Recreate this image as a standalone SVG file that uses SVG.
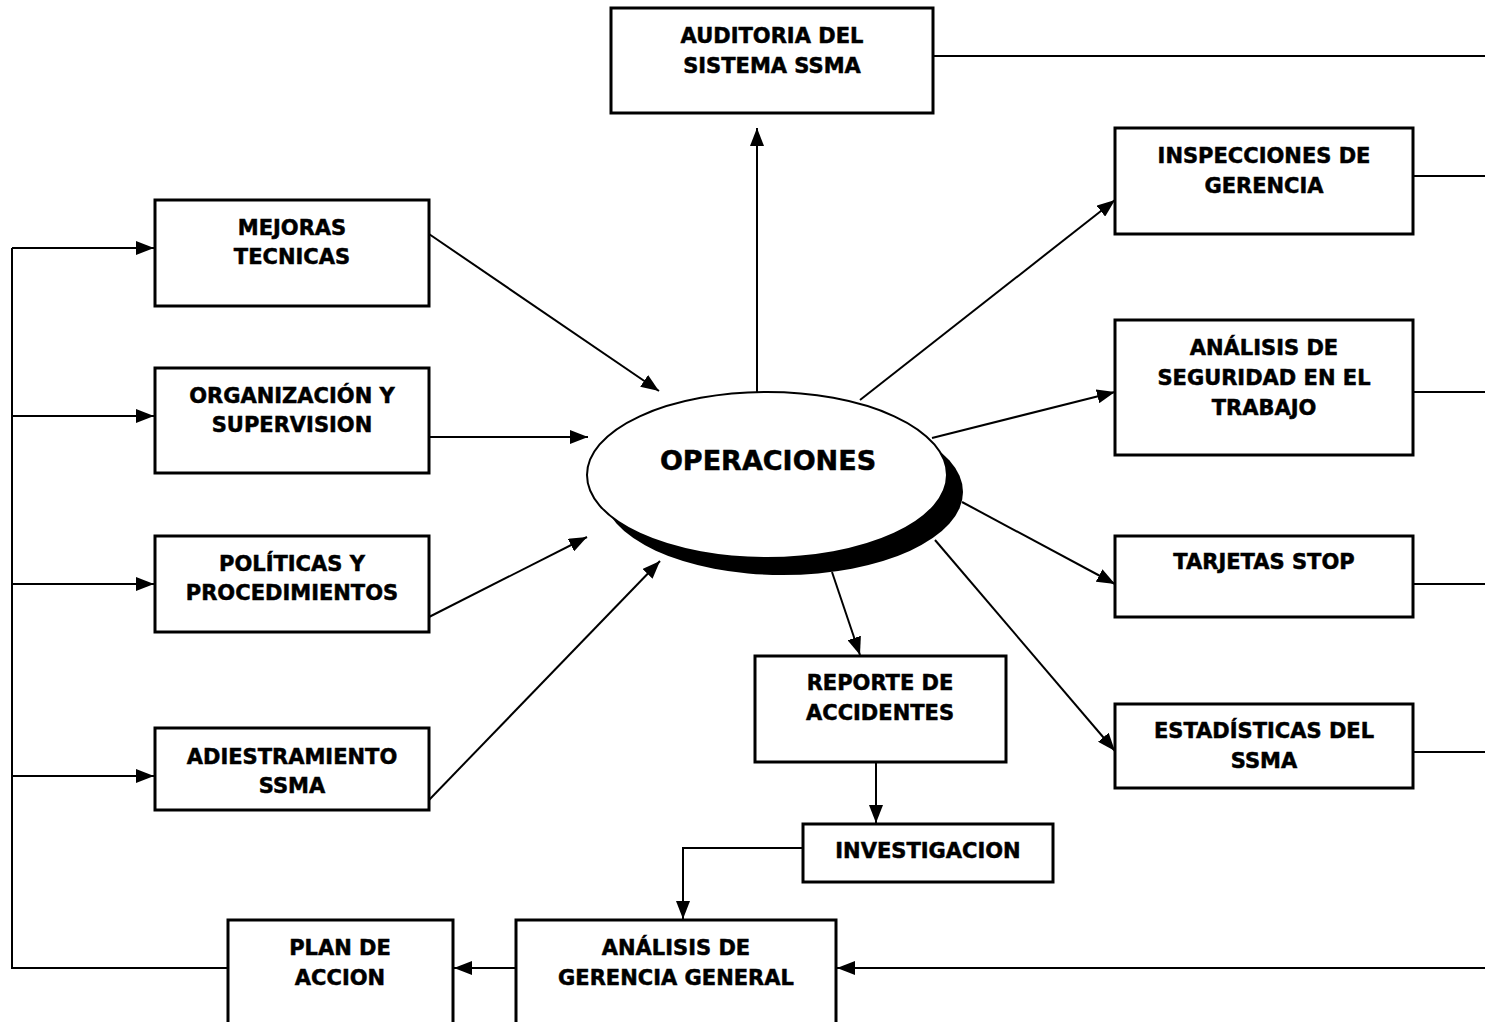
<svg xmlns="http://www.w3.org/2000/svg" width="1485" height="1022" viewBox="0 0 1485 1022">
<style>
.box{fill:#fff;stroke:#000;stroke-width:3}
.lbl{font-family:"DejaVu Sans","Liberation Sans",sans-serif;font-weight:bold;font-size:21px;text-anchor:middle;fill:#000;stroke:#000;stroke-width:0.5}
.big{font-size:27px}
.ln{fill:none;stroke:#000;stroke-width:2}
.ar{marker-end:url(#ah)}
</style>
<defs>
<marker id="ah" viewBox="0 0 18 14" refX="18" refY="7" markerWidth="18" markerHeight="14" markerUnits="userSpaceOnUse" orient="auto">
<path d="M0,0 L18,7 L0,14 z" fill="#000"/>
</marker>
</defs>
<rect width="1485" height="1022" fill="#fff"/>
<g id="connectors">
<line class="ln ar" x1="757" y1="392" x2="757" y2="128"/>
<line class="ln" x1="933" y1="56" x2="1485" y2="56"/>
<line class="ln" x1="1413" y1="176" x2="1485" y2="176"/>
<line class="ln" x1="1413" y1="392" x2="1485" y2="392"/>
<line class="ln" x1="1413" y1="584" x2="1485" y2="584"/>
<line class="ln" x1="1413" y1="752" x2="1485" y2="752"/>
<line class="ln ar" x1="1485" y1="968" x2="837" y2="968"/>
<line class="ln ar" x1="516" y1="968" x2="454" y2="968"/>
<polyline class="ln" points="228,968 12,968 12,248"/>
<line class="ln ar" x1="12" y1="248" x2="154" y2="248"/>
<line class="ln ar" x1="12" y1="416" x2="154" y2="416"/>
<line class="ln ar" x1="12" y1="584" x2="154" y2="584"/>
<line class="ln ar" x1="12" y1="776" x2="154" y2="776"/>
<line class="ln ar" x1="429" y1="234" x2="659" y2="391"/>
<line class="ln ar" x1="429" y1="437" x2="588" y2="437"/>
<line class="ln ar" x1="429" y1="617" x2="587" y2="537"/>
<line class="ln ar" x1="429" y1="800" x2="660" y2="561"/>
<line class="ln ar" x1="860" y1="400" x2="1115" y2="200"/>
<line class="ln ar" x1="932" y1="438" x2="1115" y2="392"/>
<line class="ln ar" x1="962" y1="502" x2="1115" y2="584"/>
<line class="ln ar" x1="935" y1="540" x2="1115" y2="751"/>
<line class="ln ar" x1="832" y1="572" x2="860" y2="655"/>
<line class="ln ar" x1="876" y1="762" x2="876" y2="823"/>
<polyline class="ln ar" points="803,848 683,848 683,919"/>
</g>
<g id="operaciones">
<ellipse cx="783" cy="492" rx="180" ry="83" fill="#000"/>
<ellipse cx="767" cy="475" rx="180" ry="83" fill="#fff" stroke="#000" stroke-width="2"/>
<text class="lbl big" x="768" y="470">OPERACIONES</text>
</g>
<g id="auditoria">
<rect class="box" x="611" y="8" width="322" height="105"/>
<text class="lbl" x="772" y="43">AUDITORIA DEL</text>
<text class="lbl" x="772" y="73">SISTEMA SSMA</text>
</g>
<g id="inspecciones">
<rect class="box" x="1115" y="128" width="298" height="106"/>
<text class="lbl" x="1264" y="163">INSPECCIONES DE</text>
<text class="lbl" x="1264" y="193">GERENCIA</text>
</g>
<g id="analisis-seguridad">
<rect class="box" x="1115" y="320" width="298" height="135"/>
<text class="lbl" x="1264" y="355">ANÁLISIS DE</text>
<text class="lbl" x="1264" y="385">SEGURIDAD EN EL</text>
<text class="lbl" x="1264" y="415">TRABAJO</text>
</g>
<g id="tarjetas">
<rect class="box" x="1115" y="536" width="298" height="81"/>
<text class="lbl" x="1264" y="569">TARJETAS STOP</text>
</g>
<g id="estadisticas">
<rect class="box" x="1115" y="704" width="298" height="84"/>
<text class="lbl" x="1264" y="738">ESTADÍSTICAS DEL</text>
<text class="lbl" x="1264" y="768">SSMA</text>
</g>
<g id="mejoras">
<rect class="box" x="155" y="200" width="274" height="106"/>
<text class="lbl" x="292" y="235">MEJORAS</text>
<text class="lbl" x="292" y="264">TECNICAS</text>
</g>
<g id="organizacion">
<rect class="box" x="155" y="368" width="274" height="105"/>
<text class="lbl" x="292" y="403">ORGANIZACIÓN Y</text>
<text class="lbl" x="292" y="432">SUPERVISION</text>
</g>
<g id="politicas">
<rect class="box" x="155" y="536" width="274" height="96"/>
<text class="lbl" x="292" y="571">POLÍTICAS Y</text>
<text class="lbl" x="292" y="600">PROCEDIMIENTOS</text>
</g>
<g id="adiestramiento">
<rect class="box" x="155" y="728" width="274" height="82"/>
<text class="lbl" x="292" y="764">ADIESTRAMIENTO</text>
<text class="lbl" x="292" y="793">SSMA</text>
</g>
<g id="reporte">
<rect class="box" x="755" y="656" width="251" height="106"/>
<text class="lbl" x="880" y="690">REPORTE DE</text>
<text class="lbl" x="880" y="720">ACCIDENTES</text>
</g>
<g id="investigacion">
<rect class="box" x="803" y="824" width="250" height="58"/>
<text class="lbl" x="928" y="858">INVESTIGACION</text>
</g>
<g id="analisis-gerencia">
<rect class="box" x="516" y="920" width="320" height="130"/>
<text class="lbl" x="676" y="955">ANÁLISIS DE</text>
<text class="lbl" x="676" y="985">GERENCIA GENERAL</text>
</g>
<g id="plan">
<rect class="box" x="228" y="920" width="225" height="130"/>
<text class="lbl" x="340" y="955">PLAN DE</text>
<text class="lbl" x="340" y="985">ACCION</text>
</g>
</svg>
